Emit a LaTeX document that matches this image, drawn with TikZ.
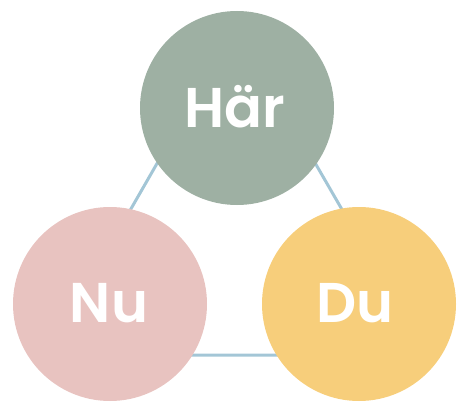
\documentclass[tikz,border=0pt]{standalone}
\usepackage{fontspec}
\setmainfont{Poppins}
\newfontfamily\semi{Poppins SemiBold}
\definecolor{cgreen}{HTML}{9EB0A3}
\definecolor{cpink}{HTML}{E8C3C0}
\definecolor{cyellow}{HTML}{F7CE7B}
\definecolor{cline}{HTML}{A3C6D6}
\tikzset{
  disc/.style={circle, inner sep=0pt, minimum size=194pt, draw=none},
  lbl/.style={text=white, font=\semi\fontsize{56}{56}\selectfont, inner sep=0pt, anchor=base},
  link/.style={draw=cline, line width=3pt}
}
\begin{document}
\begin{tikzpicture}[x=1pt,y=-1pt]
\useasboundingbox (0,0) rectangle (457,401);
\coordinate (A) at (236,26);
\coordinate (B) at (47,355);
\coordinate (C) at (426,355);
\draw[link] (A) -- (B) -- (C) -- cycle;
\node[disc, fill=cgreen] (har) at (237,108) {};
\node[disc, fill=cpink] (nu) at (110,304) {};
\node[disc, fill=cyellow] (du) at (359,304) {};
\node[lbl] (thar) at (235,128) {Här};
\node[lbl] (tnu) at (109,322) {Nu};
\node[lbl] (tdu) at (355,322) {Du};
\end{tikzpicture}
\end{document}
